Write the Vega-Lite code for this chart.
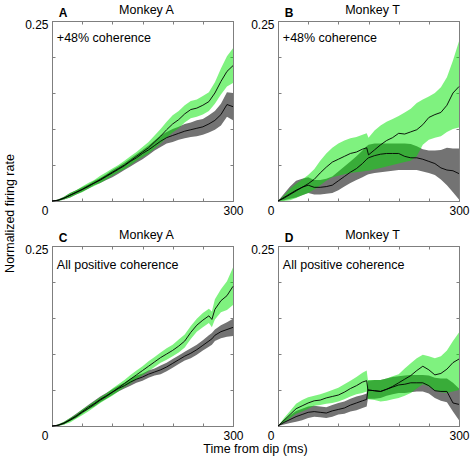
{
  "$schema": "https://vega.github.io/schema/vega-lite/v6.json",
  "autosize": "pad",
  "padding": {"left": 2, "top": 3, "right": 2, "bottom": 3},
  "background": "white",
  "config": {
    "font": "Liberation Sans",
    "view": {"stroke": "#7f7f7f", "strokeWidth": 1},
    "axis": {"domainColor": "#7f7f7f", "tickColor": "#7f7f7f", "tickSize": -3, "labelPadding": 7, "labelFont": "Liberation Sans", "labelFontSize": 12, "labelColor": "#000000", "labelFlush": false, "labelOverlap": false, "grid": false, "titleFont": "Liberation Sans", "titleFontSize": 12.5, "titleFontWeight": "normal", "titleColor": "#000000"},
    "title": {"font": "Liberation Sans", "fontSize": 12.5, "fontWeight": "normal", "color": "#000000"}
  },
  "datasets": {
    "A": [
      {"t":0,"gm":0,"gl":0,"gh":0,"km":0,"kl":0,"kh":0},
      {"t":10,"gm":0.001,"gl":0,"gh":0.002,"km":0.001,"kl":0,"kh":0.002},
      {"t":20,"gm":0.004,"gl":0.002,"gh":0.006,"km":0.004,"kl":0.002,"kh":0.006},
      {"t":30,"gm":0.008,"gl":0.005,"gh":0.011,"km":0.008,"kl":0.005,"kh":0.011},
      {"t":40,"gm":0.012,"gl":0.009,"gh":0.015,"km":0.012,"kl":0.009,"kh":0.015},
      {"t":50,"gm":0.016,"gl":0.012,"gh":0.020,"km":0.016,"kl":0.013,"kh":0.019},
      {"t":60,"gm":0.021,"gl":0.017,"gh":0.025,"km":0.020,"kl":0.017,"kh":0.023},
      {"t":70,"gm":0.025,"gl":0.021,"gh":0.029,"km":0.025,"kl":0.022,"kh":0.028},
      {"t":80,"gm":0.030,"gl":0.025,"gh":0.035,"km":0.029,"kl":0.025,"kh":0.032},
      {"t":90,"gm":0.035,"gl":0.030,"gh":0.040,"km":0.034,"kl":0.029,"kh":0.037},
      {"t":100,"gm":0.040,"gl":0.035,"gh":0.045,"km":0.039,"kl":0.033,"kh":0.043},
      {"t":110,"gm":0.045,"gl":0.040,"gh":0.050,"km":0.044,"kl":0.038,"kh":0.048},
      {"t":120,"gm":0.050,"gl":0.044,"gh":0.056,"km":0.049,"kl":0.043,"kh":0.053},
      {"t":130,"gm":0.056,"gl":0.050,"gh":0.062,"km":0.055,"kl":0.048,"kh":0.059},
      {"t":140,"gm":0.062,"gl":0.056,"gh":0.068,"km":0.060,"kl":0.053,"kh":0.065},
      {"t":150,"gm":0.068,"gl":0.061,"gh":0.075,"km":0.066,"kl":0.058,"kh":0.071},
      {"t":160,"gm":0.074,"gl":0.066,"gh":0.082,"km":0.071,"kl":0.064,"kh":0.077},
      {"t":170,"gm":0.082,"gl":0.073,"gh":0.091,"km":0.077,"kl":0.070,"kh":0.084},
      {"t":180,"gm":0.090,"gl":0.080,"gh":0.100,"km":0.083,"kl":0.075,"kh":0.091},
      {"t":190,"gm":0.099,"gl":0.088,"gh":0.110,"km":0.088,"kl":0.080,"kh":0.096},
      {"t":200,"gm":0.107,"gl":0.095,"gh":0.119,"km":0.091,"kl":0.082,"kh":0.100},
      {"t":210,"gm":0.113,"gl":0.101,"gh":0.125,"km":0.094,"kl":0.085,"kh":0.103},
      {"t":220,"gm":0.121,"gl":0.109,"gh":0.133,"km":0.097,"kl":0.087,"kh":0.107},
      {"t":230,"gm":0.127,"gl":0.115,"gh":0.139,"km":0.099,"kl":0.089,"kh":0.109},
      {"t":240,"gm":0.129,"gl":0.117,"gh":0.141,"km":0.101,"kl":0.090,"kh":0.112},
      {"t":250,"gm":0.133,"gl":0.120,"gh":0.146,"km":0.103,"kl":0.092,"kh":0.114},
      {"t":260,"gm":0.138,"gl":0.125,"gh":0.151,"km":0.107,"kl":0.095,"kh":0.119},
      {"t":270,"gm":0.150,"gl":0.135,"gh":0.165,"km":0.112,"kl":0.099,"kh":0.125},
      {"t":280,"gm":0.166,"gl":0.148,"gh":0.184,"km":0.120,"kl":0.105,"kh":0.135},
      {"t":290,"gm":0.180,"gl":0.159,"gh":0.201,"km":0.134,"kl":0.117,"kh":0.151},
      {"t":300,"gm":0.188,"gl":0.164,"gh":0.212,"km":0.131,"kl":0.112,"kh":0.150}
    ],
    "B": [
      {"t":0,"gm":0,"gl":0,"gh":0,"km":0,"kl":0,"kh":0},
      {"t":10,"gm":0.004,"gl":0.000,"gh":0.008,"km":0.005,"kl":0.001,"kh":0.010},
      {"t":20,"gm":0.009,"gl":0.001,"gh":0.017,"km":0.010,"kl":0.003,"kh":0.020},
      {"t":30,"gm":0.014,"gl":0.004,"gh":0.024,"km":0.015,"kl":0.005,"kh":0.028},
      {"t":40,"gm":0.019,"gl":0.008,"gh":0.030,"km":0.019,"kl":0.008,"kh":0.031},
      {"t":50,"gm":0.024,"gl":0.011,"gh":0.036,"km":0.022,"kl":0.011,"kh":0.033},
      {"t":60,"gm":0.030,"gl":0.016,"gh":0.044,"km":0.019,"kl":0.009,"kh":0.029},
      {"t":70,"gm":0.039,"gl":0.022,"gh":0.056,"km":0.019,"kl":0.009,"kh":0.029},
      {"t":80,"gm":0.047,"gl":0.028,"gh":0.066,"km":0.020,"kl":0.010,"kh":0.031},
      {"t":90,"gm":0.054,"gl":0.033,"gh":0.074,"km":0.022,"kl":0.011,"kh":0.034},
      {"t":100,"gm":0.058,"gl":0.035,"gh":0.080,"km":0.028,"kl":0.015,"kh":0.041},
      {"t":110,"gm":0.062,"gl":0.037,"gh":0.084,"km":0.034,"kl":0.020,"kh":0.048},
      {"t":120,"gm":0.066,"gl":0.039,"gh":0.087,"km":0.040,"kl":0.025,"kh":0.055},
      {"t":130,"gm":0.068,"gl":0.040,"gh":0.089,"km":0.045,"kl":0.029,"kh":0.062},
      {"t":140,"gm":0.072,"gl":0.041,"gh":0.092,"km":0.052,"kl":0.033,"kh":0.070},
      {"t":147,"gm":0.074,"gl":0.042,"gh":0.094,"km":0.058,"kl":0.036,"kh":0.076},
      {"t":150,"gm":0.064,"gl":0.042,"gh":0.088,"km":0.060,"kl":0.037,"kh":0.078},
      {"t":160,"gm":0.071,"gl":0.044,"gh":0.098,"km":0.063,"kl":0.039,"kh":0.080},
      {"t":170,"gm":0.078,"gl":0.046,"gh":0.105,"km":0.065,"kl":0.040,"kh":0.080},
      {"t":180,"gm":0.084,"gl":0.048,"gh":0.110,"km":0.066,"kl":0.041,"kh":0.080},
      {"t":190,"gm":0.088,"gl":0.050,"gh":0.114,"km":0.066,"kl":0.042,"kh":0.080},
      {"t":200,"gm":0.094,"gl":0.052,"gh":0.118,"km":0.066,"kl":0.043,"kh":0.080},
      {"t":210,"gm":0.093,"gl":0.054,"gh":0.123,"km":0.062,"kl":0.043,"kh":0.080},
      {"t":220,"gm":0.096,"gl":0.056,"gh":0.128,"km":0.060,"kl":0.043,"kh":0.079},
      {"t":230,"gm":0.099,"gl":0.062,"gh":0.136,"km":0.060,"kl":0.043,"kh":0.076},
      {"t":240,"gm":0.106,"gl":0.078,"gh":0.141,"km":0.058,"kl":0.041,"kh":0.072},
      {"t":250,"gm":0.116,"gl":0.085,"gh":0.145,"km":0.055,"kl":0.039,"kh":0.070},
      {"t":260,"gm":0.120,"gl":0.088,"gh":0.150,"km":0.052,"kl":0.036,"kh":0.070},
      {"t":270,"gm":0.123,"gl":0.090,"gh":0.158,"km":0.046,"kl":0.030,"kh":0.071},
      {"t":280,"gm":0.133,"gl":0.096,"gh":0.172,"km":0.043,"kl":0.022,"kh":0.074},
      {"t":290,"gm":0.150,"gl":0.100,"gh":0.195,"km":0.042,"kl":0.012,"kh":0.073},
      {"t":300,"gm":0.159,"gl":0.102,"gh":0.222,"km":0.038,"kl":0.002,"kh":0.073}
    ],
    "C": [
      {"t":0,"gm":0,"gl":0,"gh":0,"km":0,"kl":0,"kh":0},
      {"t":10,"gm":0.001,"gl":0,"gh":0.002,"km":0.001,"kl":0,"kh":0.002},
      {"t":20,"gm":0.004,"gl":0.002,"gh":0.006,"km":0.004,"kl":0.002,"kh":0.006},
      {"t":30,"gm":0.008,"gl":0.005,"gh":0.011,"km":0.009,"kl":0.007,"kh":0.011},
      {"t":40,"gm":0.013,"gl":0.010,"gh":0.016,"km":0.014,"kl":0.011,"kh":0.017},
      {"t":50,"gm":0.019,"gl":0.015,"gh":0.023,"km":0.020,"kl":0.017,"kh":0.023},
      {"t":60,"gm":0.024,"gl":0.020,"gh":0.028,"km":0.026,"kl":0.023,"kh":0.029},
      {"t":70,"gm":0.030,"gl":0.026,"gh":0.034,"km":0.031,"kl":0.027,"kh":0.035},
      {"t":80,"gm":0.036,"gl":0.032,"gh":0.040,"km":0.037,"kl":0.033,"kh":0.041},
      {"t":90,"gm":0.041,"gl":0.037,"gh":0.045,"km":0.042,"kl":0.038,"kh":0.046},
      {"t":100,"gm":0.047,"gl":0.042,"gh":0.052,"km":0.047,"kl":0.043,"kh":0.051},
      {"t":110,"gm":0.053,"gl":0.048,"gh":0.058,"km":0.052,"kl":0.048,"kh":0.056},
      {"t":120,"gm":0.059,"gl":0.054,"gh":0.064,"km":0.056,"kl":0.052,"kh":0.060},
      {"t":130,"gm":0.065,"gl":0.059,"gh":0.071,"km":0.061,"kl":0.056,"kh":0.066},
      {"t":140,"gm":0.071,"gl":0.065,"gh":0.077,"km":0.065,"kl":0.060,"kh":0.070},
      {"t":150,"gm":0.077,"gl":0.071,"gh":0.083,"km":0.068,"kl":0.063,"kh":0.073},
      {"t":160,"gm":0.083,"gl":0.076,"gh":0.090,"km":0.072,"kl":0.067,"kh":0.077},
      {"t":170,"gm":0.089,"gl":0.082,"gh":0.096,"km":0.075,"kl":0.070,"kh":0.080},
      {"t":180,"gm":0.095,"gl":0.088,"gh":0.102,"km":0.078,"kl":0.072,"kh":0.084},
      {"t":190,"gm":0.100,"gl":0.092,"gh":0.108,"km":0.082,"kl":0.076,"kh":0.088},
      {"t":200,"gm":0.105,"gl":0.097,"gh":0.113,"km":0.087,"kl":0.081,"kh":0.093},
      {"t":210,"gm":0.111,"gl":0.102,"gh":0.120,"km":0.092,"kl":0.086,"kh":0.098},
      {"t":220,"gm":0.118,"gl":0.109,"gh":0.127,"km":0.097,"kl":0.091,"kh":0.103},
      {"t":230,"gm":0.130,"gl":0.121,"gh":0.139,"km":0.101,"kl":0.094,"kh":0.108},
      {"t":240,"gm":0.140,"gl":0.131,"gh":0.149,"km":0.106,"kl":0.099,"kh":0.113},
      {"t":250,"gm":0.147,"gl":0.137,"gh":0.157,"km":0.112,"kl":0.105,"kh":0.119},
      {"t":260,"gm":0.153,"gl":0.143,"gh":0.163,"km":0.118,"kl":0.110,"kh":0.126},
      {"t":265,"gm":0.148,"gl":0.137,"gh":0.159,"km":0.121,"kl":0.113,"kh":0.129},
      {"t":270,"gm":0.162,"gl":0.148,"gh":0.176,"km":0.126,"kl":0.118,"kh":0.134},
      {"t":280,"gm":0.174,"gl":0.158,"gh":0.190,"km":0.131,"kl":0.122,"kh":0.140},
      {"t":290,"gm":0.181,"gl":0.161,"gh":0.201,"km":0.134,"kl":0.124,"kh":0.144},
      {"t":300,"gm":0.194,"gl":0.168,"gh":0.220,"km":0.137,"kl":0.125,"kh":0.149}
    ],
    "D": [
      {"t":0,"gm":0,"gl":0,"gh":0,"km":0,"kl":0,"kh":0},
      {"t":10,"gm":0.008,"gl":0.005,"gh":0.011,"km":0.005,"kl":0.002,"kh":0.008},
      {"t":20,"gm":0.016,"gl":0.011,"gh":0.021,"km":0.009,"kl":0.004,"kh":0.015},
      {"t":30,"gm":0.024,"gl":0.017,"gh":0.031,"km":0.013,"kl":0.006,"kh":0.021},
      {"t":40,"gm":0.028,"gl":0.020,"gh":0.036,"km":0.016,"kl":0.008,"kh":0.024},
      {"t":50,"gm":0.032,"gl":0.024,"gh":0.040,"km":0.019,"kl":0.011,"kh":0.027},
      {"t":60,"gm":0.035,"gl":0.028,"gh":0.042,"km":0.020,"kl":0.013,"kh":0.028},
      {"t":70,"gm":0.036,"gl":0.029,"gh":0.044,"km":0.019,"kl":0.012,"kh":0.027},
      {"t":80,"gm":0.039,"gl":0.031,"gh":0.047,"km":0.018,"kl":0.011,"kh":0.026},
      {"t":90,"gm":0.041,"gl":0.032,"gh":0.050,"km":0.021,"kl":0.013,"kh":0.029},
      {"t":100,"gm":0.043,"gl":0.034,"gh":0.053,"km":0.023,"kl":0.016,"kh":0.032},
      {"t":110,"gm":0.047,"gl":0.037,"gh":0.058,"km":0.025,"kl":0.017,"kh":0.034},
      {"t":120,"gm":0.052,"gl":0.041,"gh":0.063,"km":0.029,"kl":0.020,"kh":0.038},
      {"t":130,"gm":0.056,"gl":0.044,"gh":0.068,"km":0.032,"kl":0.022,"kh":0.041},
      {"t":140,"gm":0.061,"gl":0.046,"gh":0.074,"km":0.035,"kl":0.025,"kh":0.043},
      {"t":147,"gm":0.063,"gl":0.048,"gh":0.077,"km":0.037,"kl":0.027,"kh":0.045},
      {"t":149,"gm":0.050,"gl":0.037,"gh":0.064,"km":0.050,"kl":0.038,"kh":0.063},
      {"t":160,"gm":0.049,"gl":0.036,"gh":0.064,"km":0.049,"kl":0.038,"kh":0.064},
      {"t":170,"gm":0.048,"gl":0.034,"gh":0.064,"km":0.048,"kl":0.039,"kh":0.064},
      {"t":180,"gm":0.051,"gl":0.035,"gh":0.066,"km":0.051,"kl":0.042,"kh":0.066},
      {"t":190,"gm":0.055,"gl":0.037,"gh":0.069,"km":0.054,"kl":0.044,"kh":0.068},
      {"t":200,"gm":0.060,"gl":0.039,"gh":0.072,"km":0.057,"kl":0.046,"kh":0.069},
      {"t":210,"gm":0.065,"gl":0.042,"gh":0.080,"km":0.058,"kl":0.046,"kh":0.070},
      {"t":220,"gm":0.070,"gl":0.046,"gh":0.087,"km":0.060,"kl":0.047,"kh":0.071},
      {"t":230,"gm":0.077,"gl":0.052,"gh":0.094,"km":0.060,"kl":0.048,"kh":0.071},
      {"t":240,"gm":0.083,"gl":0.058,"gh":0.099,"km":0.060,"kl":0.048,"kh":0.071},
      {"t":250,"gm":0.078,"gl":0.055,"gh":0.097,"km":0.056,"kl":0.045,"kh":0.070},
      {"t":260,"gm":0.071,"gl":0.049,"gh":0.094,"km":0.049,"kl":0.039,"kh":0.067},
      {"t":270,"gm":0.073,"gl":0.047,"gh":0.097,"km":0.048,"kl":0.035,"kh":0.066},
      {"t":280,"gm":0.079,"gl":0.046,"gh":0.105,"km":0.048,"kl":0.033,"kh":0.066},
      {"t":290,"gm":0.088,"gl":0.048,"gh":0.118,"km":0.032,"kl":0.020,"kh":0.060},
      {"t":300,"gm":0.093,"gl":0.050,"gh":0.130,"km":0.030,"kl":0.008,"kh":0.052}
    ]
  },
  "columns": 2,
  "spacing": 45,
  "bounds": "flush",
  "concat": [
    {
      "width": 181, "height": 180,
      "title": {"text": "Monkey A", "dx": 4, "offset": -9, "anchor": "middle"},
      "data": {"name": "A"},
      "resolve": {"axis": {"x": "independent", "y": "independent"}},
      "layer": [
        {"mark": {"type": "area", "color": "#737373"},
         "encoding": {
           "x": {"field": "t", "type": "quantitative", "scale": {"domain": [0, 300], "nice": false}, "axis": {"orient": "bottom", "values": [0,50,100,150,200,250,300], "labelExpr": "datum.value == 300 ? '300' : ''", "title": null}},
           "y": {"field": "kl", "type": "quantitative", "scale": {"domain": [0, 0.25], "nice": false}, "axis": {"orient": "left", "values": [0,0.05,0.1,0.15,0.2,0.25], "labelExpr": "datum.value == 0 ? '0' : (datum.value == 0.25 ? '0.25' : '')", "labelOffset": {"condition": {"test": "datum.value == 0", "value": 9}, "value": 3}, "title": "Normalized firing rate", "titleX": -36, "titleY": 192}},
           "y2": {"field": "kh"}}},
        {"mark": {"type": "area", "color": "#00e600", "opacity": 0.5},
         "encoding": {
           "x": {"field": "t", "type": "quantitative", "axis": {"orient": "top", "values": [0,50,100,150,200,250,300], "labels": false, "title": null}},
           "y": {"field": "gl", "type": "quantitative", "axis": {"orient": "right", "values": [0,0.05,0.1,0.15,0.2,0.25], "labels": false, "title": null}},
           "y2": {"field": "gh"}}},
        {"mark": {"type": "line", "color": "#000000", "strokeWidth": 0.9},
         "encoding": {"x": {"field": "t", "type": "quantitative", "axis": null}, "y": {"field": "km", "type": "quantitative", "axis": null}}},
        {"mark": {"type": "line", "color": "#000000", "strokeWidth": 0.9},
         "encoding": {"x": {"field": "t", "type": "quantitative", "axis": null}, "y": {"field": "gm", "type": "quantitative", "axis": null}}},
        {"data": {"values": [{"s": "A", "c": "+48% coherence"}]},
         "mark": {"type": "text", "align": "left", "baseline": "alphabetic", "fontWeight": "bold", "fontSize": 12},
         "encoding": {"x": {"datum": 11, "axis": null}, "y": {"datum": 0.2555, "axis": null}, "text": {"field": "s"}}},
        {"data": {"values": [{"s": "A", "c": "+48% coherence"}]},
         "mark": {"type": "text", "align": "left", "baseline": "middle", "fontSize": 12.5},
         "encoding": {"x": {"datum": 8, "axis": null}, "y": {"datum": 0.227, "axis": null}, "text": {"field": "c"}}}
      ]
    },
    {
      "width": 181, "height": 180,
      "title": {"text": "Monkey T", "dx": 4, "offset": -9, "anchor": "middle"},
      "data": {"name": "B"},
      "resolve": {"axis": {"x": "independent", "y": "independent"}},
      "layer": [
        {"mark": {"type": "area", "color": "#737373"},
         "encoding": {
           "x": {"field": "t", "type": "quantitative", "scale": {"domain": [0, 300], "nice": false}, "axis": {"orient": "bottom", "values": [0,50,100,150,200,250,300], "labelExpr": "datum.value == 300 ? '300' : ''", "title": null}},
           "y": {"field": "kl", "type": "quantitative", "scale": {"domain": [0, 0.25], "nice": false}, "axis": {"orient": "left", "values": [0,0.05,0.1,0.15,0.2,0.25], "labelExpr": "datum.value == 0 ? '0' : (datum.value == 0.25 ? '0.25' : '')", "labelOffset": {"condition": {"test": "datum.value == 0", "value": 9}, "value": 3}, "title": null}},
           "y2": {"field": "kh"}}},
        {"mark": {"type": "area", "color": "#00e600", "opacity": 0.5},
         "encoding": {
           "x": {"field": "t", "type": "quantitative", "axis": {"orient": "top", "values": [0,50,100,150,200,250,300], "labels": false, "title": null}},
           "y": {"field": "gl", "type": "quantitative", "axis": {"orient": "right", "values": [0,0.05,0.1,0.15,0.2,0.25], "labels": false, "title": null}},
           "y2": {"field": "gh"}}},
        {"mark": {"type": "line", "color": "#000000", "strokeWidth": 0.9},
         "encoding": {"x": {"field": "t", "type": "quantitative", "axis": null}, "y": {"field": "km", "type": "quantitative", "axis": null}}},
        {"mark": {"type": "line", "color": "#000000", "strokeWidth": 0.9},
         "encoding": {"x": {"field": "t", "type": "quantitative", "axis": null}, "y": {"field": "gm", "type": "quantitative", "axis": null}}},
        {"data": {"values": [{"s": "B", "c": "+48% coherence"}]},
         "mark": {"type": "text", "align": "left", "baseline": "alphabetic", "fontWeight": "bold", "fontSize": 12},
         "encoding": {"x": {"datum": 11, "axis": null}, "y": {"datum": 0.2555, "axis": null}, "text": {"field": "s"}}},
        {"data": {"values": [{"s": "B", "c": "+48% coherence"}]},
         "mark": {"type": "text", "align": "left", "baseline": "middle", "fontSize": 12.5},
         "encoding": {"x": {"datum": 8, "axis": null}, "y": {"datum": 0.227, "axis": null}, "text": {"field": "c"}}}
      ]
    },
    {
      "width": 181, "height": 180,
      "title": {"text": "Monkey A", "dx": 4, "offset": -9, "anchor": "middle"},
      "data": {"name": "C"},
      "resolve": {"axis": {"x": "independent", "y": "independent"}},
      "layer": [
        {"mark": {"type": "area", "color": "#737373"},
         "encoding": {
           "x": {"field": "t", "type": "quantitative", "scale": {"domain": [0, 300], "nice": false}, "axis": {"orient": "bottom", "values": [0,50,100,150,200,250,300], "labelExpr": "datum.value == 300 ? '300' : ''", "title": "Time from dip (ms)", "titleX": 203, "titleY": 16}},
           "y": {"field": "kl", "type": "quantitative", "scale": {"domain": [0, 0.25], "nice": false}, "axis": {"orient": "left", "values": [0,0.05,0.1,0.15,0.2,0.25], "labelExpr": "datum.value == 0 ? '0' : (datum.value == 0.25 ? '0.25' : '')", "labelOffset": {"condition": {"test": "datum.value == 0", "value": 9}, "value": 3}, "title": null}},
           "y2": {"field": "kh"}}},
        {"mark": {"type": "area", "color": "#00e600", "opacity": 0.5},
         "encoding": {
           "x": {"field": "t", "type": "quantitative", "axis": {"orient": "top", "values": [0,50,100,150,200,250,300], "labels": false, "title": null}},
           "y": {"field": "gl", "type": "quantitative", "axis": {"orient": "right", "values": [0,0.05,0.1,0.15,0.2,0.25], "labels": false, "title": null}},
           "y2": {"field": "gh"}}},
        {"mark": {"type": "line", "color": "#000000", "strokeWidth": 0.9},
         "encoding": {"x": {"field": "t", "type": "quantitative", "axis": null}, "y": {"field": "km", "type": "quantitative", "axis": null}}},
        {"mark": {"type": "line", "color": "#000000", "strokeWidth": 0.9},
         "encoding": {"x": {"field": "t", "type": "quantitative", "axis": null}, "y": {"field": "gm", "type": "quantitative", "axis": null}}},
        {"data": {"values": [{"s": "C", "c": "All positive coherence"}]},
         "mark": {"type": "text", "align": "left", "baseline": "alphabetic", "fontWeight": "bold", "fontSize": 12},
         "encoding": {"x": {"datum": 11, "axis": null}, "y": {"datum": 0.2555, "axis": null}, "text": {"field": "s"}}},
        {"data": {"values": [{"s": "C", "c": "All positive coherence"}]},
         "mark": {"type": "text", "align": "left", "baseline": "middle", "fontSize": 12.5},
         "encoding": {"x": {"datum": 8, "axis": null}, "y": {"datum": 0.223, "axis": null}, "text": {"field": "c"}}}
      ]
    },
    {
      "width": 181, "height": 180,
      "title": {"text": "Monkey T", "dx": 4, "offset": -9, "anchor": "middle"},
      "data": {"name": "D"},
      "resolve": {"axis": {"x": "independent", "y": "independent"}},
      "layer": [
        {"mark": {"type": "area", "color": "#737373"},
         "encoding": {
           "x": {"field": "t", "type": "quantitative", "scale": {"domain": [0, 300], "nice": false}, "axis": {"orient": "bottom", "values": [0,50,100,150,200,250,300], "labelExpr": "datum.value == 300 ? '300' : ''", "title": null}},
           "y": {"field": "kl", "type": "quantitative", "scale": {"domain": [0, 0.25], "nice": false}, "axis": {"orient": "left", "values": [0,0.05,0.1,0.15,0.2,0.25], "labelExpr": "datum.value == 0 ? '0' : (datum.value == 0.25 ? '0.25' : '')", "labelOffset": {"condition": {"test": "datum.value == 0", "value": 9}, "value": 3}, "title": null}},
           "y2": {"field": "kh"}}},
        {"mark": {"type": "area", "color": "#00e600", "opacity": 0.5},
         "encoding": {
           "x": {"field": "t", "type": "quantitative", "axis": {"orient": "top", "values": [0,50,100,150,200,250,300], "labels": false, "title": null}},
           "y": {"field": "gl", "type": "quantitative", "axis": {"orient": "right", "values": [0,0.05,0.1,0.15,0.2,0.25], "labels": false, "title": null}},
           "y2": {"field": "gh"}}},
        {"mark": {"type": "line", "color": "#000000", "strokeWidth": 0.9},
         "encoding": {"x": {"field": "t", "type": "quantitative", "axis": null}, "y": {"field": "km", "type": "quantitative", "axis": null}}},
        {"mark": {"type": "line", "color": "#000000", "strokeWidth": 0.9},
         "encoding": {"x": {"field": "t", "type": "quantitative", "axis": null}, "y": {"field": "gm", "type": "quantitative", "axis": null}}},
        {"data": {"values": [{"s": "D", "c": "All positive coherence"}]},
         "mark": {"type": "text", "align": "left", "baseline": "alphabetic", "fontWeight": "bold", "fontSize": 12},
         "encoding": {"x": {"datum": 11, "axis": null}, "y": {"datum": 0.2555, "axis": null}, "text": {"field": "s"}}},
        {"data": {"values": [{"s": "D", "c": "All positive coherence"}]},
         "mark": {"type": "text", "align": "left", "baseline": "middle", "fontSize": 12.5},
         "encoding": {"x": {"datum": 8, "axis": null}, "y": {"datum": 0.223, "axis": null}, "text": {"field": "c"}}}
      ]
    }
  ]
}
